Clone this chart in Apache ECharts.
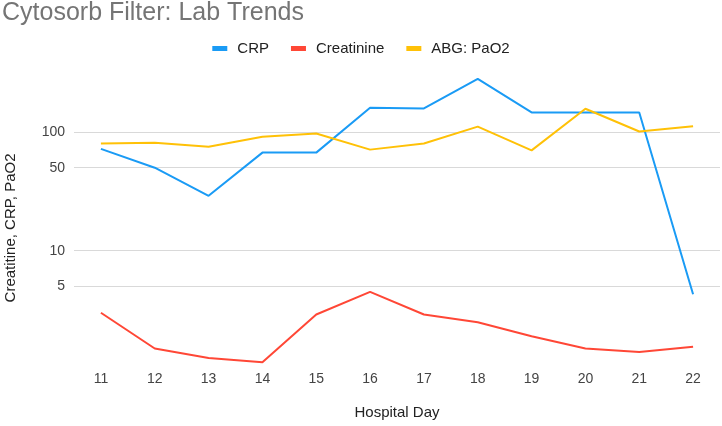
<!DOCTYPE html>
<html>
<head>
<meta charset="utf-8">
<script src="https://cdn.jsdelivr.net/npm/echarts@6/dist/echarts.min.js"></script>
<style>html,body{margin:0;padding:0;background:#fff}#c{width:722px;height:426px}</style>
</head>
<body>
<div id="c"></div>
<script>
const days = ['11','12','13','14','15','16','17','18','19','20','21','22'];
const crp = [72, 50, 29, 67, 67, 160, 158, 280, 146, 146, 146, 4.3];
const creatinine = [3.0, 1.5, 1.25, 1.15, 2.9, 4.5, 2.9, 2.5, 1.9, 1.5, 1.4, 1.55];
const pao2 = [80, 81, 75, 91, 97, 71, 80, 111, 70, 157, 101, 112];
const yTicks = [5, 10, 50, 100];

const chart = echarts.init(document.getElementById('c'));
const lineStyleFor = c => ({ color: c, width: 2 });
chart.setOption({
  animation: false,
  title: {
    text: 'Cytosorb Filter: Lab Trends',
    left: 2, top: 1, padding: 0,
    textStyle: { fontFamily: 'Liberation Sans', fontSize: 25, fontWeight: 'normal', color: '#757575' }
  },
  legend: {
    top: 36, left: 'center',
    itemWidth: 15, itemHeight: 5, itemGap: 22,
    icon: 'rect',
    textStyle: { fontFamily: 'Liberation Sans', fontSize: 15, color: '#222', padding: [0, 0, 0, 5] },
    data: ['CRP', 'Creatinine', 'ABG: PaO2']
  },
  grid: { left: 74, right: 2, top: 60.5, bottom: 56.6, outerBoundsMode: 'none', containLabel: false },
  xAxis: {
    type: 'category', data: days, boundaryGap: true,
    name: 'Hospital Day', nameLocation: 'middle', nameGap: 36,
    nameTextStyle: { fontFamily: 'Liberation Sans', fontSize: 15, color: '#222' },
    axisLine: { show: false }, axisTick: { show: false },
    axisLabel: { margin: 3, fontFamily: 'Liberation Sans', fontSize: 14, color: '#444' }
  },
  yAxis: {
    type: 'log', logBase: 10, min: 1, max: 400,
    name: 'Creatitine, CRP, PaO2', nameLocation: 'middle', nameGap: 56, nameRotate: 90,
    nameTextStyle: { fontFamily: 'Liberation Sans', fontSize: 15, color: '#222', padding: [0, 26, 0, 0] },
    axisLine: { show: false }, axisTick: { show: false },
    splitLine: { show: false },
    axisLabel: { customValues: yTicks, margin: 9, fontFamily: 'Liberation Sans', fontSize: 14, color: '#444' }
  },
  series: [
    { name: 'CRP', type: 'line', data: crp, showSymbol: false, symbol: 'none',
      color: '#1a9bf5', lineStyle: lineStyleFor('#1a9bf5'), z: 5,
      markLine: { silent: true, symbol: 'none', label: { show: false },
        lineStyle: { color: '#d9d9d9', width: 1, type: 'solid' },
        data: yTicks.map(v => ({ yAxis: v })) , z: 1 } },
    { name: 'Creatinine', type: 'line', data: creatinine, showSymbol: false, symbol: 'none',
      color: '#ff4736', lineStyle: lineStyleFor('#ff4736'), z: 5 },
    { name: 'ABG: PaO2', type: 'line', data: pao2, showSymbol: false, symbol: 'none',
      color: '#ffc107', lineStyle: lineStyleFor('#ffc107'), z: 5 }
  ]
});
</script>
</body>
</html>
